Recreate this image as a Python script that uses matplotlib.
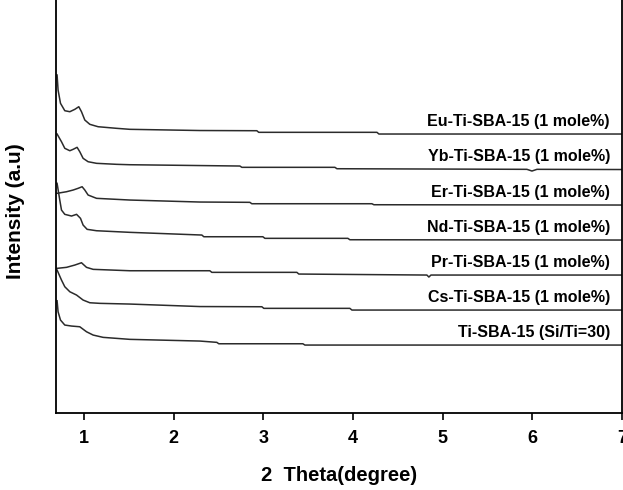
import matplotlib
matplotlib.use("Agg")
import matplotlib.pyplot as plt

plt.rcParams['font.family'] = ['Liberation Sans', 'DejaVu Sans']

# XRD patterns (x: 2 theta in degree, y: intensity a.u.)
eu_x = [0.702, 0.713, 0.740, 0.788, 0.844, 0.900, 0.944, 0.974, 1.011, 1.067, 1.159, 1.365, 1.513, 2.294, 2.929, 2.95, 4.268, 4.29, 7.0]
eu_y = [338, 323, 309.7, 302.3, 301.3, 303.7, 306.3, 301.3, 293, 288.7, 286.3, 284.7, 283.7, 282.5, 282.3, 280.7, 280.7, 279, 279]

yb_x = [0.702, 0.751, 0.788, 0.844, 0.881, 0.925, 0.955, 0.992, 1.048, 1.142, 1.365, 1.513, 2.740, 2.762, 3.799, 3.822, 5.940, 5.996, 6.052, 7.0]
yb_y = [279, 271.3, 264.7, 262.3, 263.7, 265.7, 261.3, 254.7, 251.3, 249.7, 248.7, 248.3, 247, 245.7, 245.7, 244.3, 243.7, 242, 243.7, 243.5]

er_x = [0.702, 0.807, 0.881, 0.936, 0.981, 1.011, 1.048, 1.142, 1.513, 2.294, 2.851, 2.873, 4.212, 4.234, 7.0]
er_y = [219.7, 221.3, 223, 224.7, 226.3, 223, 218, 214.7, 213, 211, 210.7, 209.3, 209.3, 208.3, 208]

nd_x = [0.702, 0.732, 0.751, 0.788, 0.863, 0.919, 0.963, 0.992, 1.037, 1.142, 1.513, 2.316, 2.338, 2.996, 3.019, 3.944, 3.966, 7.0]
nd_y = [229.7, 213, 203, 198.7, 197, 198.7, 194.7, 188, 183.7, 182.3, 180.7, 178, 176.3, 176.3, 174.7, 174.7, 173.3, 173]

pr_x = [0.702, 0.807, 0.900, 0.974, 1.030, 1.104, 1.513, 2.405, 2.427, 3.375, 3.397, 4.825, 4.847, 4.870, 7.0]
pr_y = [144.7, 145.7, 148, 150.3, 145.7, 143.7, 142.3, 142.3, 140.7, 140.7, 139, 138, 136, 138, 138]

cs_x = [0.702, 0.751, 0.788, 0.844, 0.919, 0.992, 1.067, 1.178, 1.513, 2.294, 2.985, 3.007, 3.966, 3.989, 7.0]
cs_y = [143, 133, 126.3, 121.3, 118, 113, 110.3, 109.7, 109, 106.5, 106.3, 104.7, 104.7, 103, 103]

ti_x = [0.702, 0.713, 0.740, 0.788, 0.863, 0.955, 1.030, 1.104, 1.215, 1.513, 2.294, 2.483, 2.505, 3.442, 3.465, 7.0]
ti_y = [112.3, 101.3, 93, 88, 87, 86.3, 81.3, 78, 75.7, 73.7, 72, 70.7, 69.3, 69.3, 68, 68]

names = ["Eu-Ti-SBA-15 (1 mole%)", "Yb-Ti-SBA-15 (1 mole%)", "Er-Ti-SBA-15 (1 mole%)",
         "Nd-Ti-SBA-15 (1 mole%)", "Pr-Ti-SBA-15 (1 mole%)", "Cs-Ti-SBA-15 (1 mole%)",
         "Ti-SBA-15 (Si/Ti=30)"]
series = [(eu_x, eu_y), (yb_x, yb_y), (er_x, er_y), (nd_x, nd_y),
          (pr_x, pr_y), (cs_x, cs_y), (ti_x, ti_y)]

fig = plt.figure(figsize=(6.23, 4.9), dpi=100)
ax = fig.add_axes([0.0899, 0.157, 0.9085, 0.843])

for (xs, ys), name in zip(series, names):
    ax.plot(xs, ys, color="#2b2b2b", lw=1.1)
    ax.text(6.866, ys[-1] + 13, name, ha="right", va="center",
            fontsize=11.5, fontweight="bold")

ax.set_xlim(0.69, 7)
ax.set_ylim(0, 413)
ax.set_xticks([1, 2, 3, 4, 5, 6, 7])
ax.set_yticks([])
ax.tick_params(axis="x", direction="out", length=5, width=1.2, pad=7,
               labelsize=13)
for lab in ax.get_xticklabels():
    lab.set_fontweight("bold")
ax.spines["top"].set_visible(False)
for s in ["left", "right", "bottom"]:
    ax.spines[s].set_linewidth(1.3)

ax.set_xlabel("2  Theta(degree)", fontsize=14.5, fontweight="bold", labelpad=14)
ax.set_ylabel("Intensity (a.u)", fontsize=15, fontweight="bold")
ax.yaxis.set_label_coords(-0.055, 0.49)

fig.savefig("out.png", dpi=100)
